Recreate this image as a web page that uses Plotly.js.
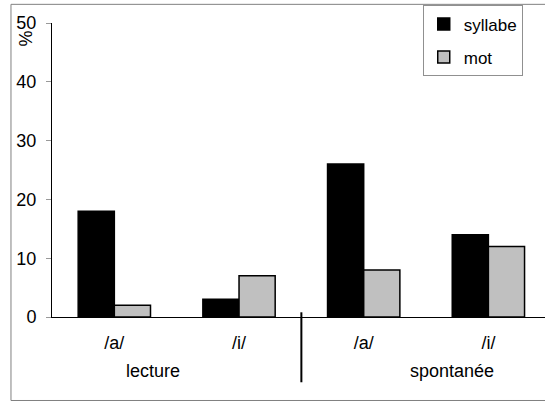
<!DOCTYPE html>
<html>
<head>
<meta charset="utf-8">
<script src="https://cdn.plot.ly/plotly-3.0.1.min.js"></script>
<style>html,body{margin:0;padding:0;background:#fff;}#chart{width:545px;height:403px;}</style>
</head>
<body>
<div id="chart"></div>
<script>
// Data
const vowels = ['/a/', '/i/', '/a/', '/i/'];
const groups = ['lecture', 'spontanée'];
const syllabe = [18, 3, 26, 14];
const mot = [2, 7, 8, 12];
const yTicks = [0, 10, 20, 30, 40, 50];

const pos = vowels.map((v, i) => i);
const FONT = 'Liberation Sans, Arial, sans-serif';

const traces = [
  {type: 'bar', name: 'syllabe', x: pos, y: syllabe, legendgroup: 'a',
   marker: {color: '#000000', line: {color: '#000000', width: 1.5}}},
  {type: 'bar', name: 'mot', x: pos, y: mot, legendgroup: 'b',
   marker: {color: '#c0c0c0', line: {color: '#000000', width: 1.5}}}
];

const xr = [-0.5, 3.454];
const layout = {
  width: 545, height: 403,
  margin: {l: 52, r: 0, t: 23, b: 86},
  paper_bgcolor: '#ffffff', plot_bgcolor: '#ffffff',
  font: {family: FONT, size: 18, color: '#000'},
  barmode: 'group', bargap: 0.42, bargroupgap: 0,
  showlegend: true,
  legend: {x: 0.752, y: 1.06, xanchor: 'left', yanchor: 'top',
    bordercolor: '#909090', borderwidth: 1, bgcolor: '#fff',
    font: {family: FONT, size: 17}, traceorder: 'grouped', tracegroupgap: 8},
  xaxis: {range: xr, tickvals: pos, ticktext: vowels, ticks: '',
    showline: true, linecolor: '#000', linewidth: 1, showgrid: false, zeroline: false,
    ticklabelstandoff: 9, fixedrange: true, tickfont: {size: 18}},
  xaxis2: {range: xr, overlaying: 'x', anchor: 'y', tickvals: [0.5, 2.5], ticks: 'outside',
    ticklen: 5, tickcolor: '#999', showticklabels: false, showline: false, showgrid: false, zeroline: false},
  xaxis3: {range: xr, overlaying: 'x', anchor: 'y', tickvals: [0.5, 2.5], ticks: 'inside',
    ticklen: 5, tickcolor: '#999', showticklabels: false, showline: false, showgrid: false, zeroline: false},
  yaxis: {range: [0, 50], tickvals: yTicks, ticks: 'outside', ticklen: 5, tickcolor: '#999',
    showline: true, linecolor: '#000', linewidth: 1, showgrid: false, zeroline: false,
    ticklabelstandoff: 6, tickfont: {size: 18}},
  yaxis2: {range: [0, 50], overlaying: 'y', anchor: 'x', tickvals: yTicks, ticks: 'inside',
    ticklen: 5, tickcolor: '#999', showticklabels: false, showline: false, showgrid: false, zeroline: false},
  shapes: [
    {type: 'rect', xref: 'paper', yref: 'paper', x0: -0.0832, x1: 1.05, y0: -0.284, y1: 1.0635,
      line: {color: '#808080', width: 1}, fillcolor: 'rgba(0,0,0,0)', layer: 'below'},
    {type: 'line', xref: 'x', yref: 'paper', x0: 1.5, x1: 1.5, y0: 0.016, y1: -0.222,
      line: {color: '#000', width: 2}}
  ],
  annotations: [
    {text: '%', xref: 'paper', yref: 'paper', x: -0.078, y: 0.98, textangle: -90,
      showarrow: false, font: {size: 18}},
    {text: groups[0], xref: 'x', yref: 'paper', x: 0.306, y: -0.223, showarrow: false, font: {size: 18}},
    {text: groups[1], xref: 'x', yref: 'paper', x: 2.708, y: -0.223, showarrow: false, font: {size: 18}}
  ]
};

Plotly.newPlot('chart', traces, layout, {displayModeBar: false, staticPlot: true});
</script>
</body>
</html>
